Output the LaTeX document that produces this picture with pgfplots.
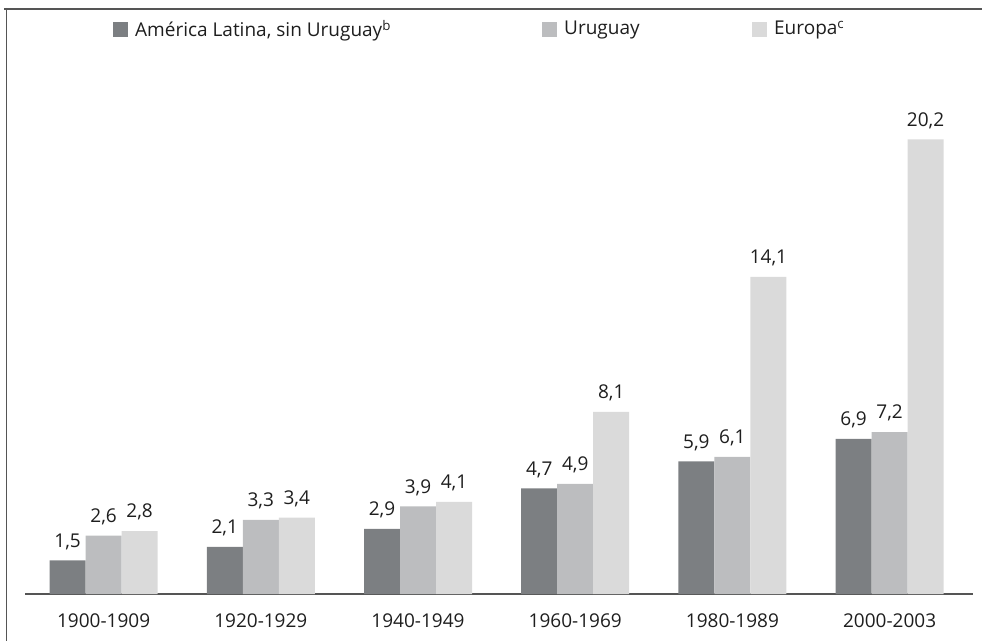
\documentclass[border=0pt]{standalone}
\usepackage{fontspec}
\setmainfont{Open Sans}
\usepackage{pgfplots}
\pgfplotsset{compat=1.18}
\definecolor{cA}{RGB}{124,127,130}
\definecolor{cB}{RGB}{188,189,191}
\definecolor{cC}{RGB}{218,218,218}
\definecolor{frame}{RGB}{85,85,85}
\definecolor{txt}{RGB}{30,30,30}
\begin{document}
\fontsize{19}{23}\selectfont
\begin{tikzpicture}
\path[use as bounding box] (0pt,0pt) rectangle (982pt,641pt);
\draw[line width=2pt, color=frame] (4pt,632pt) -- (982pt,632pt);
\draw[line width=1.2pt, color=frame] (6.5pt,633pt) -- (6.5pt,0pt);
\begin{axis}[
  at={(25pt,47pt)}, anchor=south west,
  x=157.2pt, y=22.5pt,
  xmin=-0.5, xmax=5.53, ymin=0, ymax=22.5,
  hide y axis,
  axis x line*=bottom,
  x axis line style={line width=1.5pt, color=frame, -},
  xtick={0,1,2,3,4,5},
  xticklabels={1900-1909,1920-1929,1940-1949,1960-1969,1980-1989,2000-2003},
  major tick length=0pt,
  xticklabel style={anchor=north, inner sep=0pt, yshift=-20pt, text=txt, font=\fontsize{19}{23}\selectfont},
  ybar, bar width=36pt,
  every axis plot/.append style={draw=none},
  nodes near coords,
  nodes near coords style={anchor=south, inner sep=0pt, text depth=0pt, yshift=13pt, text=txt, font=\fontsize{19}{23}\selectfont,
    /pgf/number format/.cd, fixed, fixed zerofill, precision=1, use comma, assume math mode=true},
  legend columns=3,
  legend style={at={(axis description cs:0.0928,1.115)}, anchor=west, draw=none, fill=none, inner sep=0pt,
    nodes={inner sep=0pt, text=txt, font=\fontsize{19}{23}\selectfont},
    column sep=0pt,
    /tikz/every odd column/.append style={column sep=7pt},
    /tikz/every even column/.append style={column sep=12pt}},
  legend cell align=left,
  legend image code/.code={\fill[#1] (0pt,-7.5pt) rectangle (15pt,7.5pt);},
]
\addplot[fill=cA, bar shift=-36pt] coordinates {(0,1.5) (1,2.1) (2,2.9) (3,4.7) (4,5.9) (5,6.9)};
\addlegendentry{\makebox[395pt][l]{América Latina, sin Uruguay\textsuperscript{b}}}
\addplot[fill=cB, bar shift=0pt] coordinates {(0,2.6) (1,3.3) (2,3.9) (3,4.9) (4,6.1) (5,7.2)};
\addlegendentry{\makebox[176pt][l]{Uruguay}}
\addplot[fill=cC, bar shift=36pt] coordinates {(0,2.8) (1,3.4) (2,4.1) (3,8.1) (4,14.1) (5,20.2)};
\addlegendentry{Europa\textsuperscript{c}}
\end{axis}
\end{tikzpicture}
\end{document}
